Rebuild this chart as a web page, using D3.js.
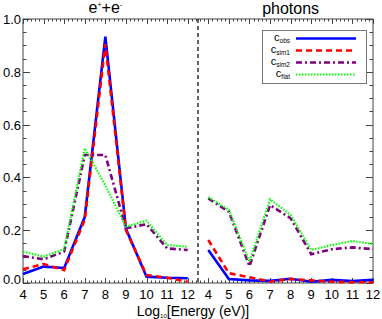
<!DOCTYPE html>
<html lang="en">
<head>
<meta charset="UTF-8">
<title>Fractions by energy</title>
<script src="https://d3js.org/d3.v7.min.js"></script>
<style>
  body { margin: 0; background: #fff; }
  svg { display: block; font-family: "Liberation Sans", Arial, sans-serif; }
</style>
</head>
<body>
<div id="chart"></div>
<script>
// energies, log10 eV (same for both panels)
const energies = [4, 5, 6, 7, 8, 9, 10, 11, 12];

// e+ + e- panel
const leptonObs  = [0.034, 0.062, 0.057, 0.25, 0.933, 0.205, 0.024, 0.02, 0.018];
const leptonSim1 = [0.052, 0.072, 0.049, 0.24, 0.905, 0.20, 0.03, 0.02, 0.005];
const leptonSim2 = [0.102, 0.09, 0.119, 0.485, 0.485, 0.207, 0.223, 0.131, 0.125];
const leptonFlat = [0.119, 0.10, 0.128, 0.51, 0.37, 0.213, 0.236, 0.144, 0.137];

// photons panel
const photonObs  = [0.125, 0.015, 0.01, 0.008, 0.016, 0.005, 0.012, 0.007, 0.012];
const photonSim1 = [0.163, 0.037, 0.022, 0.005, 0.015, 0.01, 0.005, 0.003, 0.003];
const photonSim2 = [0.32, 0.27, 0.064, 0.295, 0.245, 0.109, 0.128, 0.135, 0.128];
const photonFlat = [0.325, 0.277, 0.081, 0.317, 0.258, 0.125, 0.144, 0.159, 0.148];

const yTicks = [0, 0.2, 0.4, 0.6, 0.8, 1.0];

const series = [
  { key: "obs",  left: leptonObs,  right: photonObs,  color: "#0000ff", dash: null,        width: 2.6 },
  { key: "sim1", left: leptonSim1, right: photonSim1, color: "#ff0000", dash: "6,4",       width: 2.6 },
  { key: "sim2", left: leptonSim2, right: photonSim2, color: "#800080", dash: "6,3,2,3",   width: 2.6 },
  { key: "flat", left: leptonFlat, right: photonFlat, color: "#00ff00", dash: "1.5,1.5",   width: 2.2 }
];

const width = 382, height = 319;
const margin = { left: 23, right: 9, top: 19, bottom: 36 };

const svg = d3.select("#chart").append("svg")
  .attr("width", width)
  .attr("height", height);

// one continuous axis: left panel at slots 0..8, right panel at 9..17
const x = d3.scaleLinear().domain([0, 17]).range([margin.left, width - margin.right]);
const y = d3.scaleLinear().domain([0, 1]).range([height - margin.bottom, margin.top]);

const pos = (panel, e) => (panel === "left" ? e - 4 : e - 4 + 9);

const frameColor = "#444";
const x0 = x(0), x1 = x(17), yb = y(0), yt = y(1);

// frame
svg.append("rect")
  .attr("x", x0).attr("y", yt)
  .attr("width", x1 - x0).attr("height", yb - yt)
  .attr("fill", "none").attr("stroke", frameColor).attr("stroke-width", 1);

// x ticks, bottom and top
const xMinor = d3.range(0, 17.001, 0.2);
const ticks = svg.append("g").attr("stroke", frameColor).attr("stroke-width", 1);
xMinor.forEach(v => {
  const major = Math.abs(v - Math.round(v)) < 1e-6;
  const len = major ? 5 : 2.5;
  const px = Math.round(x(v)) + 0.5;
  ticks.append("line").attr("x1", px).attr("x2", px).attr("y1", yb).attr("y2", yb - len);
  ticks.append("line").attr("x1", px).attr("x2", px).attr("y1", yt).attr("y2", yt + len);
});

// y ticks, left and right
d3.range(0, 1.0001, 0.05).forEach(v => {
  const major = Math.abs(v * 5 - Math.round(v * 5)) < 1e-6;
  const len = major ? 7 : 3.5;
  const py = Math.round(y(v)) + 0.5;
  ticks.append("line").attr("x1", x0).attr("x2", x0 + len).attr("y1", py).attr("y2", py);
  ticks.append("line").attr("x1", x1).attr("x2", x1 - len).attr("y1", py).attr("y2", py);
});

// x tick labels
["left", "right"].forEach(panel => {
  svg.append("g").selectAll("text")
    .data(energies)
    .join("text")
    .attr("x", d => x(pos(panel, d)))
    .attr("y", yb + 16)
    .attr("text-anchor", "middle")
    .attr("font-size", 13)
    .attr("fill", "#000")
    .text(d => d);
});

// y tick labels
svg.append("g").selectAll("text")
  .data(yTicks)
  .join("text")
  .attr("x", x0 - 2)
  .attr("y", d => y(d) + (d === 0 ? 1 : 5))
  .attr("text-anchor", "end")
  .attr("font-size", 13)
  .attr("fill", "#000")
  .text(d => d.toFixed(1));

// dashed separator between panels
svg.append("line")
  .attr("x1", x(8.5)).attr("x2", x(8.5))
  .attr("y1", yt).attr("y2", yb)
  .attr("stroke", "#000").attr("stroke-width", 1.2)
  .attr("stroke-dasharray", "4,3");

// curves
const line = d3.line().x(d => x(d[0])).y(d => y(d[1]));
series.forEach(s => {
  ["left", "right"].forEach(panel => {
    const pts = energies.map((e, i) => [pos(panel, e), s[panel][i]]);
    svg.append("path")
      .datum(pts)
      .attr("d", line)
      .attr("fill", "none")
      .attr("stroke", s.color)
      .attr("stroke-width", s.width)
      .attr("stroke-dasharray", s.dash);
  });
});

// panel titles
const t1 = svg.append("text")
  .attr("x", x(4)).attr("y", 13)
  .attr("text-anchor", "middle").attr("font-size", 16).attr("fill", "#000");
t1.append("tspan").text("e");
t1.append("tspan").attr("font-size", 7).attr("dy", -6).text("+");
t1.append("tspan").attr("dy", 6).text("+e");
t1.append("tspan").attr("font-size", 7).attr("dy", -6).text("-");

svg.append("text")
  .attr("x", x(13)).attr("y", 14)
  .attr("text-anchor", "middle").attr("font-size", 16).attr("fill", "#000")
  .text("photons");

// x axis label
const xl = svg.append("text")
  .attr("x", 193).attr("y", 316)
  .attr("text-anchor", "middle").attr("font-size", 14).attr("fill", "#000");
xl.append("tspan").text("Log");
xl.append("tspan").attr("font-size", 6).attr("dy", 2).text("10");
xl.append("tspan").attr("dy", -2).text("[Energy (eV)]");

// legend
const lg = svg.append("g");
lg.append("rect")
  .attr("x", 262.5).attr("y", 30.5)
  .attr("width", 104).attr("height", 53)
  .attr("fill", "#fff").attr("stroke", "#777").attr("stroke-width", 1);
series.forEach((s, i) => {
  const ly = 38.5 + i * 12;
  const tx = lg.append("text")
    .attr("x", 290).attr("y", ly + 2)
    .attr("text-anchor", "end").attr("font-size", 11).attr("fill", "#000");
  tx.append("tspan").text("c");
  tx.append("tspan").attr("font-size", 6.5).attr("dy", 2).text(s.key);
  lg.append("line")
    .attr("x1", 296).attr("x2", 356)
    .attr("y1", ly).attr("y2", ly)
    .attr("stroke", s.color)
    .attr("stroke-width", s.width)
    .attr("stroke-dasharray", s.dash);
});
</script>
</body>
</html>
